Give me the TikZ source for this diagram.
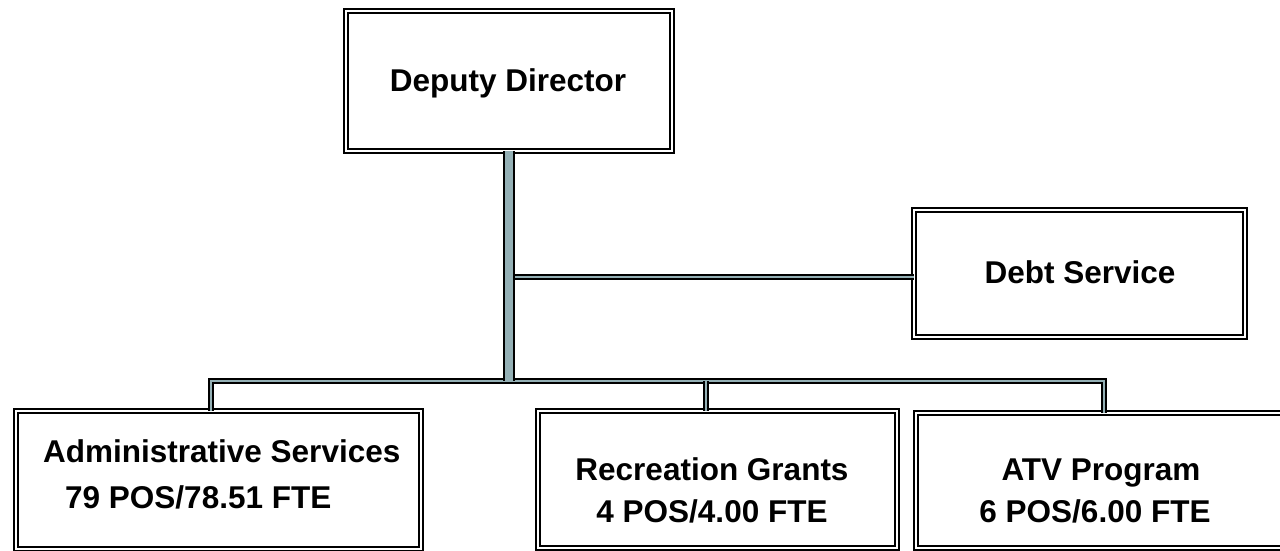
\documentclass[tikz,border=0pt]{standalone}
\usepackage{fontspec}
\setmainfont{Liberation Sans}
\definecolor{greyblue}{RGB}{148,176,181}
\begin{document}
\begin{tikzpicture}[x=1pt,y=-1pt,
  box/.style={draw=black, line width=2.2pt, double=white, double distance=2.5pt,
    rectangle, inner sep=0pt, outer sep=0pt, fill=white},
  conn/.style={draw=black, line width=1.7pt, double=greyblue, double distance=2.6pt, line join=miter},
  trunkbar/.style={draw=black, line width=1.7pt, double=greyblue, double distance=8.5pt},
  lbl/.style={font=\fontsize{31.5}{40}\selectfont\bfseries, inner sep=0pt, anchor=base}]
\useasboundingbox (0,0) rectangle (1280,551);
\clip (0,0) rectangle (1280,551);
% boxes
\node[box, minimum width=326pt, minimum height=140pt] (dd) at (509,81) {};
\node[box, minimum width=331pt, minimum height=127pt] (debt) at (1079.5,273.5) {};
\node[box, minimum width=405pt, minimum height=138pt] (admin) at (218.5,480) {};
\node[box, minimum width=359pt, minimum height=137pt] (rec) at (717.5,479.5) {};
\node[box, minimum width=374pt, minimum height=135pt] (atv) at (1103,480.5) {};
% connector coordinates
\coordinate (busL) at (211,381);
\coordinate (busR) at (1104,381);
\coordinate (busM) at (706,381);
\coordinate (debtin) at ([yshift=-3.5pt]debt.west);
% connectors
\draw[conn] (dd.south |- debtin) -- (debtin);
\draw[conn] (admin.north -| busL) -- (busL) -- (busR) -- (atv.north -| busR);
\draw[conn] (busM) -- (rec.north -| busM);
\draw[trunkbar] (dd.south) -- (dd.south |- busL);
% texts
\node[lbl] (tdd) at (508,92) {Deputy Director};
\node[lbl] (tdebt) at (1080,283) {Debt Service};
\node[lbl, anchor=base west] (tadm1) at (43,462) {Administrative Services};
\node[lbl, anchor=base west] (tadm2) at (65,508) {79 POS/78.51 FTE};
\node[lbl] (trec1) at (712,480) {Recreation Grants};
\node[lbl] (trec2) at (712,522) {4 POS/4.00 FTE};
\node[lbl] (tatv1) at (1101,480) {ATV Program};
\node[lbl] (tatv2) at (1095,522) {6 POS/6.00 FTE};
\end{tikzpicture}
\end{document}
